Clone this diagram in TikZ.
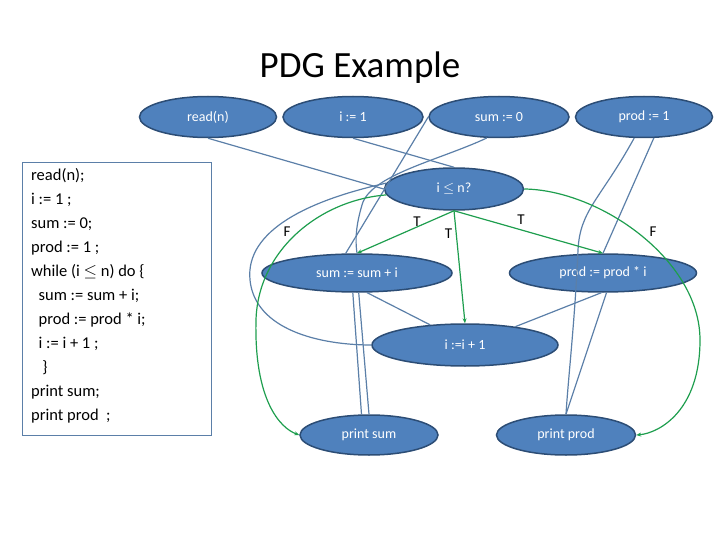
\documentclass[tikz,border=0pt]{standalone}
\usepackage{fontspec}
\setmainfont{Carlito}
\usetikzlibrary{shapes.geometric,arrows.meta}
\definecolor{nfill}{HTML}{4F81BD}
\definecolor{nline}{HTML}{2C4D75}
\definecolor{dep}{HTML}{5B7FA8}
\definecolor{ctl}{HTML}{1E9E4E}
\begin{document}
\begin{tikzpicture}[x=1pt,y=-1pt,
 nd/.style={ellipse,draw=nline,line width=1.5pt,fill=nfill,text=white,inner sep=0pt,font=\fontsize{14}{16}\selectfont},
 d/.style={draw=dep,line width=1.2pt},
 c/.style={draw=ctl,line width=1.2pt,-{Stealth[length=5pt,width=4pt]}},
 lb/.style={font=\fontsize{15}{17}\selectfont}]
\useasboundingbox (0,0) rectangle (720,540);
\node[font=\fontsize{37}{40}\selectfont] (title) at (360,68) {PDG Example};
\node[draw=dep,line width=0.8pt,minimum width=189pt,minimum height=273pt,anchor=north west,inner sep=0pt] (code) at (22,162) {};
\node[anchor=north west,align=left,font=\fontsize{16.5}{24}\selectfont,inner sep=0pt] (codetxt) at (31,168) {read(n);\\ i := 1 ;\\ sum := 0;\\ prod := 1 ;\\ while (i $\le$ n) do \{\\ \ \ sum := sum + i;\\ \ \ prod := prod * i;\\ \ \ i := i + 1 ;\\ \ \ \ \}\\ print sum;\\ print prod\ \ ;};
\node[nd,minimum width=137pt,minimum height=41pt] (rn) at (208,117) {read(n)};
\node[nd,minimum width=140pt,minimum height=41pt] (i1) at (353,117) {i := 1};
\node[nd,minimum width=140pt,minimum height=41pt] (s0) at (499,117) {sum := 0};
\node[nd,minimum width=137pt,minimum height=41pt] (p1) at (644,117) {prod := 1};
\node[nd,minimum width=139pt,minimum height=42pt] (w) at (454,189) {i $\le$ n?};
\node[nd,minimum width=190pt,minimum height=38pt] (ss) at (357,273) {sum := sum + i};
\node[nd,minimum width=187pt,minimum height=38pt] (pp) at (603,273) {prod := prod * i};
\node[nd,minimum width=186pt,minimum height=42pt] (ii) at (465,345) {i :=i + 1};
\node[nd,minimum width=138pt,minimum height=40pt] (ps) at (369,435) {print sum};
\node[nd,minimum width=139pt,minimum height=40pt] (pr) at (566,435) {print prod};
% data dependences
\draw[d] (rn.south) -- (w.west);
\draw[d] (i1.south) -- (w.north);
\draw[d] (s0.west) -- (ss.120);
\draw[d] (s0.240) .. controls (440,160) and (370,175) .. (362,205) .. controls (356,225) and (355,240) .. (ss.north);
\draw[d] (w.175) .. controls (310,200) and (245,230) .. (250,280) .. controls (255,330) and (320,345) .. (ii.west);
\draw[d] (ss.258) -- (ps.110);
\draw[d] (ss.275) -- (ps.north);
\draw[d] (ss.297) -- (ii.150);
\draw[d] (p1.245) .. controls (600,200) and (580,210) .. (578,250) .. controls (575,320) and (568,380) .. (pr.north);
\draw[d] (p1.295) -- (pp.north);
\draw[d] (pp.280) -- (pr.north);
\draw[d] (ii.20) -- (pp.265);
% control dependences
\draw[c] (w.south) -- node[lb,pos=0.45,above right=-1pt] (t1) {T} (ss.north);
\draw[c] (w.south) -- node[lb,pos=0.2,left=0pt] (t2) {T} (ii.north);
\draw[c] (w.south) -- node[lb,pos=0.45,above=1pt] (t3) {T} (pp.north);
\draw[c] (w.185) .. controls (320,200) and (258,250) .. (256,320) .. controls (254,400) and (280,428) .. (ps.west);
\draw[c] (w.east) .. controls (600,190) and (700,260) .. (700,340) .. controls (700,410) and (660,433) .. (pr.east);
\node[lb] (f1) at (287,232) {F};
\node[lb] (f2) at (653,232) {F};
\end{tikzpicture}
\end{document}
